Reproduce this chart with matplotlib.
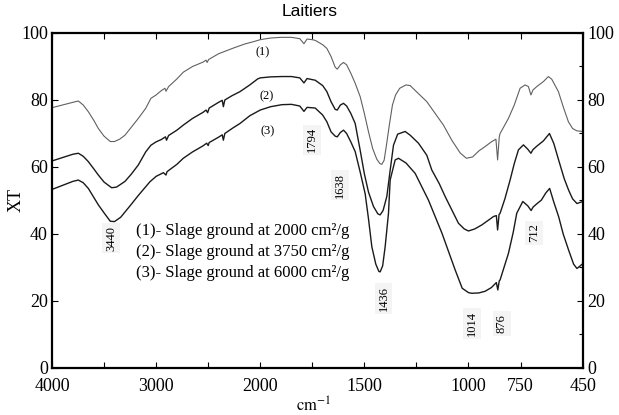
import numpy as np
import matplotlib
matplotlib.use("Agg")
import matplotlib.pyplot as plt

plt.rcParams['font.family'] = ['Liberation Serif', 'DejaVu Serif']
plt.rcParams['mathtext.fontset'] = 'stix'

# ---------------- data ----------------
w1 = [4000, 3900, 3800, 3747, 3700, 3651, 3600, 3555, 3500, 3440, 3400, 3350, 3299, 3240, 3171,
      3100, 3050, 3000, 2950, 2915, 2905, 2880, 2800, 2739, 2650, 2550, 2520, 2510, 2495, 2400,
      2300, 2258, 2150, 2066, 2000, 1950, 1900, 1850, 1810, 1790, 1775, 1750, 1736, 1700, 1680,
      1660, 1640, 1630, 1615, 1600, 1585, 1565, 1544, 1520, 1500, 1480, 1460, 1440, 1425, 1416,
      1405, 1395, 1380, 1365, 1350, 1330, 1300, 1280, 1250, 1200, 1160, 1120, 1080, 1040, 1010,
      980, 950, 920, 890, 868, 860, 852, 848, 808, 780, 752, 728, 712, 700, 690, 672, 640, 616,
      600, 568, 545, 520, 500, 480, 450]
t1 = [77.7, 78.5, 79.3, 79.7, 78.5, 76.5, 74.0, 71.5, 69.2, 67.6, 67.6, 68.3, 69.5, 71.8, 74.5,
      77.5, 80.5, 81.5, 82.8, 83.5, 82.6, 84.0, 86.3, 88.3, 90.0, 91.3, 91.9, 91.2, 92.1, 93.8,
      95.0, 95.5, 96.7, 97.4, 98.0, 98.5, 98.7, 98.7, 98.3, 96.8, 98.2, 98.0, 97.8, 96.5, 95.4,
      93.0, 89.8, 89.2, 90.5, 91.2, 90.5, 88.0, 85.0, 81.0, 76.0, 70.5, 65.5, 62.3, 61.0, 60.8,
      62.0, 66.0, 72.5, 78.5, 81.5, 83.5, 84.5, 84.3, 82.5, 79.5, 76.0, 72.5, 68.0, 64.2, 62.6,
      63.0, 64.8, 66.1, 67.5, 68.3, 62.1, 69.0, 70.0, 74.5, 78.5, 83.5, 84.5, 84.0, 81.5, 83.0,
      84.0, 85.5, 87.0, 86.2, 82.5, 78.0, 73.5, 71.5, 70.8, 70.6]

w2 = [4000, 3900, 3800, 3747, 3700, 3651, 3600, 3555, 3500, 3427, 3380, 3299, 3240, 3171, 3100,
      3050, 3000, 2950, 2910, 2900, 2880, 2800, 2739, 2650, 2550, 2520, 2505, 2490, 2400, 2365,
      2354, 2340, 2270, 2194, 2100, 2024, 2000, 1950, 1896, 1850, 1810, 1790, 1775, 1736, 1700,
      1680, 1660, 1640, 1630, 1615, 1600, 1585, 1565, 1544, 1520, 1500, 1480, 1456, 1435, 1424,
      1410, 1392, 1376, 1360, 1340, 1304, 1280, 1240, 1200, 1176, 1140, 1112, 1080, 1048, 1020,
      1000, 970, 936, 900, 880, 866, 860, 853, 848, 825, 800, 780, 760, 736, 715, 700, 690, 670,
      640, 611, 590, 567, 540, 519, 500, 479, 460, 450]
t2 = [61.8, 62.8, 63.8, 64.1, 63.2, 61.6, 59.5, 57.6, 55.5, 53.8, 54.0, 55.7, 57.8, 60.6, 64.5,
      66.5, 67.5, 68.2, 69.0, 68.0, 69.4, 71.0, 72.5, 74.5, 76.3, 77.0, 76.2, 77.6, 79.3, 79.9,
      78.0, 80.0, 81.3, 82.5, 84.5, 86.3, 86.6, 86.9, 87.0, 87.0, 86.6, 85.1, 86.4, 85.9, 84.3,
      82.5, 79.5, 77.2, 77.0, 78.5, 79.0, 78.2, 76.0, 73.0, 65.0, 58.0, 52.5, 48.2, 46.0, 45.7,
      47.0, 51.2, 59.0, 66.5, 69.8, 70.6, 69.5, 67.1, 63.5, 59.1, 55.0, 51.2, 47.2, 43.2, 41.5,
      40.9, 41.5, 42.7, 44.3, 45.2, 45.5, 41.2, 45.8, 46.2, 50.5, 56.1, 61.0, 65.1, 66.6, 65.3,
      64.1, 65.2, 66.3, 67.8, 70.0, 67.0, 62.1, 56.5, 53.1, 50.5, 49.1, 49.5, 49.7]

w3 = [4000, 3900, 3800, 3747, 3700, 3651, 3600, 3555, 3500, 3440, 3400, 3340, 3240, 3171, 3059,
      3000, 2930, 2905, 2895, 2800, 2739, 2650, 2550, 2514, 2500, 2490, 2400, 2365, 2354, 2340,
      2270, 2194, 2100, 2000, 1950, 1896, 1850, 1810, 1790, 1775, 1736, 1700, 1680, 1660, 1640,
      1630, 1615, 1600, 1585, 1565, 1544, 1520, 1496, 1480, 1464, 1445, 1430, 1424, 1412, 1400,
      1384, 1376, 1352, 1336, 1300, 1256, 1192, 1127, 1064, 1030, 1000, 984, 950, 920, 890, 866,
      859, 852, 848, 808, 785, 768, 739, 715, 699, 690, 672, 650, 628, 610, 590, 567, 545, 519,
      495, 479, 465, 450]
t3 = [53.3, 54.5, 55.7, 56.1, 55.3, 53.6, 51.0, 48.7, 46.3, 43.8, 43.7, 45.0, 48.8, 51.5, 55.6,
      57.2, 58.3, 57.6, 58.6, 60.8, 62.6, 64.5, 66.3, 67.1, 66.4, 67.3, 68.9, 69.6, 68.0, 70.0,
      71.5, 73.0, 75.3, 77.0, 78.0, 78.6, 78.7, 78.2, 76.6, 77.8, 77.6, 75.5, 73.5, 70.5, 69.2,
      69.0, 70.3, 71.0, 70.0, 67.5, 64.6, 58.5, 52.0, 44.5, 36.2, 31.0, 28.8, 28.7, 30.5, 36.2,
      46.2, 56.1, 62.1, 62.6, 61.2, 58.1, 50.1, 40.2, 29.3, 23.8, 22.5, 22.3, 22.4, 22.9, 24.0, 25.5,
      23.3, 26.0, 26.3, 34.2, 40.5, 46.2, 49.7, 48.4, 47.0, 48.0, 49.0, 50.1, 52.3, 53.6, 49.5,
      45.2, 40.0, 35.2, 31.0, 29.7, 30.4, 31.2]

curve_tags = ["(1)", "(2)", "(3)"]
legend_lines = ["(1)- Slage ground at 2000 cm\u00b2/g",
                "(2)- Slage ground at 3750 cm\u00b2/g",
                "(3)- Slage ground at 6000 cm\u00b2/g"]
peak_labels = ["3440", "1794", "1638", "1436", "1014", "876", "712"]
xtick_vals = [4000, 3000, 2000, 1500, 1000, 750, 450]
xminor_vals = [3500, 2500, 1750, 1250]
ytick_vals = [0, 20, 40, 60, 80, 100]

# ---------------- scale (compressed above 2000 cm-1) ----------------
def fwd(w):
    w = np.asarray(w, dtype=float)
    return np.where(w > 2000, 2000 + (w - 2000) / 2.0, w)

def inv(u):
    u = np.asarray(u, dtype=float)
    return np.where(u > 2000, 2000 + (u - 2000) * 2.0, u)

fig = plt.figure(figsize=(6.19, 4.15), dpi=100)
ax = fig.add_axes([0.084, 0.1133, 0.8578, 0.8072])
ax.set_xscale('function', functions=(fwd, inv))

ax.plot(w1, t1, color='#606060', lw=0.8)
ax.plot(w2, t2, color='#1a1a1a', lw=1.0)
ax.plot(w3, t3, color='#1a1a1a', lw=1.0)

ax.set_xlim(4000, 450)
ax.set_ylim(0, 100)

ax.set_xticks(xtick_vals)
ax.set_xticklabels([str(v) for v in xtick_vals])
ax.set_xticks(xminor_vals, minor=True)
ax.set_yticks(ytick_vals)
ax.set_yticks([10, 30, 50, 70, 90], minor=True)
ax.tick_params(which='both', direction='in', top=True, right=True, labelright=True,
               labelsize=13, length=4, width=0.8, pad=3)
ax.tick_params(axis='x', which='major', pad=7)
ax.tick_params(axis='y', which='minor', left=False, right=True, length=3)
ax.tick_params(axis='x', which='minor', length=4)
for s in ax.spines.values():
    s.set_linewidth(1.6)

# labels
fig.text(310 / 619, 1 - 12 / 415, "Laitiers", ha='center', va='center',
         fontsize=12.5, family=['Liberation Sans', 'DejaVu Sans'])
fig.text(16 / 619, 1 - 200 / 415, "XT", rotation=90, ha='center', va='center', fontsize=13)
fig.text(314 / 619, 1 - 406 / 415, r"$\mathrm{cm}^{-1}$", ha='center', va='center', fontsize=12)

# curve tags
tag_pos = [(1990, 94.3), (1968, 81.0), (1963, 70.7)]
for tag, (x, y) in zip(curve_tags, tag_pos):
    ax.text(x, y, tag, ha='center', va='center', fontsize=9)

# legend lines
leg_y = [40.9, 34.6, 28.4]
for txt, y in zip(legend_lines, leg_y):
    ax.text(3193, y, txt, ha='left', va='center', fontsize=12)

# peak labels (rotated)
peak_pos = [(3433, 38.8), (1752, 68.1), (1616, 54.6), (1408, 20.8), (984, 13.3), (840, 13.3), (686, 40.3)]
for lab, (x, y) in zip(peak_labels, peak_pos):
    ax.text(x, y, lab, rotation=90, ha='center', va='center', fontsize=9,
            bbox=dict(facecolor='#f4f4f4', edgecolor='none', pad=2))

fig.savefig("out.png", dpi=100)
